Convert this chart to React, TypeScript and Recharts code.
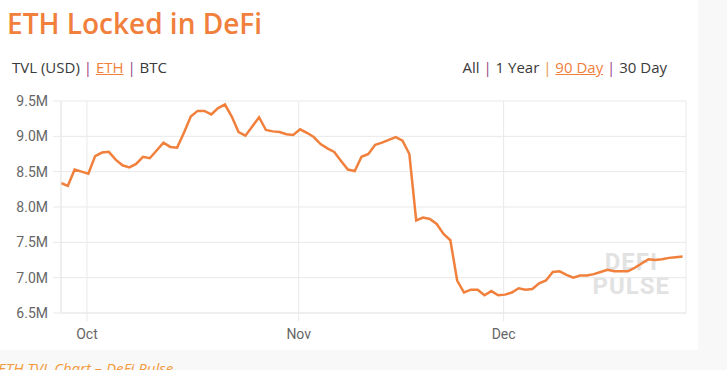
import { LineChart, Line, XAxis, YAxis, CartesianGrid } from "recharts";

// daily ETH locked (millions), starting Sep 27 2020
const ethLocked = [
  8.34, 8.3, 8.53, 8.5, 8.47, 8.72, 8.77, 8.78, 8.67, 8.59,
  8.56, 8.61, 8.71, 8.69, 8.8, 8.91, 8.85, 8.84, 9.05, 9.28,
  9.36, 9.36, 9.31, 9.4, 9.45, 9.28, 9.06, 9.01, 9.14, 9.27,
  9.09, 9.07, 9.06, 9.03, 9.02, 9.1, 9.05, 8.99, 8.89, 8.83,
  8.78, 8.65, 8.53, 8.51, 8.71, 8.75, 8.88, 8.91, 8.95, 8.99,
  8.94, 8.75, 7.81, 7.85, 7.83, 7.76, 7.62, 7.53, 6.96, 6.79,
  6.83, 6.83, 6.75, 6.81, 6.75, 6.76, 6.79, 6.85, 6.83, 6.84,
  6.92, 6.96, 7.08, 7.09, 7.04, 7.0, 7.03, 7.03, 7.05, 7.08,
  7.11, 7.09, 7.09, 7.09, 7.14, 7.2, 7.26, 7.25, 7.26, 7.28,
  7.29, 7.3,
];

// days relative to Oct 1 of the first sample
const firstDay = -3.8;
const monthTicks = [0, 31, 61];
const monthLabels = ["Oct", "Nov", "Dec"];
const yTicks = [6.5, 7.0, 7.5, 8.0, 8.5, 9.0, 9.5];

const rows = ethLocked.map((v, i) => ({ day: firstDay + i, eth: v }));

const orange = "#f0803c";
const purple = "#9a3f86";
const gridColor = "#e9e9e9";

export default function App() {
  return (
    <div
      style={{
        position: "fixed",
        left: 0,
        top: 0,
        width: 727,
        height: 370,
        background: "#f8f8f8",
        overflow: "hidden",
        fontFamily: "'Open Sans', sans-serif",
      }}
    >
      <div
        style={{
          position: "absolute",
          left: 0,
          top: 0,
          width: 698,
          height: 350,
          background: "#fff",
        }}
      >
        <div
          style={{
            position: "absolute",
            left: 7,
            top: 4,
            fontSize: 28,
            fontWeight: 600,
            color: orange,
            lineHeight: "38px",
          }}
        >
          ETH Locked in DeFi
        </div>
        <div
          style={{
            position: "absolute",
            left: 12,
            top: 57,
            fontSize: 15,
            color: "#3a3a3a",
            lineHeight: "20px",
          }}
        >
          TVL (USD) <span style={{ color: purple }}>|</span>{" "}
          <span style={{ color: orange, textDecoration: "underline" }}>ETH</span>{" "}
          <span style={{ color: purple }}>|</span> BTC
        </div>
        <div
          style={{
            position: "absolute",
            right: 31,
            top: 57,
            fontSize: 15,
            color: "#3a3a3a",
            lineHeight: "20px",
          }}
        >
          All <span style={{ color: purple }}>|</span> 1 Year{" "}
          <span style={{ color: "#e3964f" }}>|</span>{" "}
          <span style={{ color: orange, textDecoration: "underline" }}>90 Day</span>{" "}
          <span style={{ color: purple }}>|</span> 30 Day
        </div>
        <div
          style={{
            position: "absolute",
            left: 588,
            top: 250,
            width: 82,
            textAlign: "right",
            fontFamily: "Roboto, sans-serif",
            fontWeight: 700,
            fontSize: 24,
            letterSpacing: 1,
            lineHeight: "24px",
            color: "#e2e2e2",
          }}
        >
          <div style={{ paddingRight: 12 }}>DEFI</div>
          <div>PULSE</div>
        </div>
        <div style={{ position: "absolute", left: 0, top: 90 }}>
          <LineChart
            width={698}
            height={260}
            data={rows}
            margin={{ top: 11, right: 12, bottom: 7, left: 0 }}
          >
            <CartesianGrid stroke={gridColor} />
            <XAxis
              dataKey="day"
              type="number"
              domain={[firstDay, firstDay + 91.5]}
              ticks={monthTicks}
              tickFormatter={(v) => monthLabels[monthTicks.indexOf(v)]}
              height={30}
              tickSize={8}
              tickMargin={8}
              axisLine={{ stroke: gridColor }}
              tickLine={{ stroke: gridColor }}
              tick={{ fill: "#666", fontSize: 14, fontFamily: "Roboto, sans-serif" }}
            />
            <YAxis
              type="number"
              domain={[6.5, 9.5]}
              ticks={yTicks}
              tickFormatter={(v) => v.toFixed(1) + "M"}
              width={61}
              tickSize={8}
              tickMargin={5}
              axisLine={{ stroke: gridColor }}
              tickLine={{ stroke: gridColor }}
              tick={{ fill: "#666", fontSize: 14, fontFamily: "Roboto, sans-serif" }}
            />
            <Line
              dataKey="eth"
              type="linear"
              stroke={orange}
              strokeWidth={2.5}
              dot={false}
              isAnimationActive={false}
            />
          </LineChart>
        </div>
      </div>
      <div
        style={{
          position: "absolute",
          left: -2,
          top: 359,
          fontSize: 15,
          fontStyle: "italic",
          color: "#f39a3c",
          lineHeight: "18px",
        }}
      >
        ETH TVL Chart – DeFi Pulse
      </div>
    </div>
  );
}
